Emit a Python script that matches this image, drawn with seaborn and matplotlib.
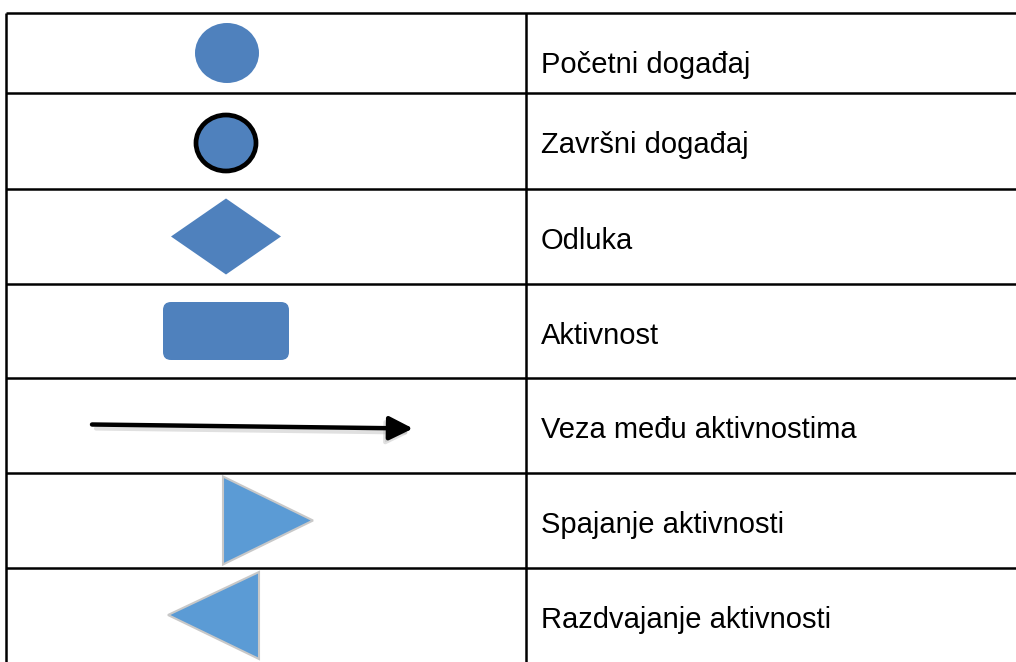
import numpy as np
import matplotlib.pyplot as plt
import matplotlib.patches as mpatches
import seaborn as sns

# sadrzaj tablice
labels = ["Početni događaj", "Završni događaj", "Odluka", "Aktivnost",
          "Veza među aktivnostima", "Spajanje aktivnosti", "Razdvajanje aktivnosti"]
symbols = ["start", "end", "decision", "activity", "arrow", "merge", "split"]

# raspored (pikseli)
W, H = 1016, 662
row_edges = [13, 93, 189, 284, 378, 473, 568, 662]
x_left, x_div = 6, 526
x_sym = 226

sns.set_theme(style="white")
plt.rcParams['font.family'] = ['Liberation Sans', 'DejaVu Sans']

fig = plt.figure(figsize=(W / 100, H / 100), dpi=100)
ax = fig.add_axes([0, 0, 1, 1])
ax.set_xlim(0, W)
ax.set_ylim(H, 0)
ax.axis('off')

blue = '#4f81bd'
blue2 = '#5b9bd5'

# linije tablice
ax.hlines(row_edges[:-1], x_left, W, color='black', lw=1.8)
ax.vlines([x_left, x_div], row_edges[0], H, color='black', lw=1.8)


def draw_symbol(kind, cy):
    if kind == "start":
        ax.add_patch(mpatches.Ellipse((x_sym + 1, cy), 64, 60, fc=blue, ec='none'))
    elif kind == "end":
        ax.add_patch(mpatches.Ellipse((x_sym, cy + 2), 60, 56, fc=blue, ec='black', lw=3.4))
    elif kind == "decision":
        pts = np.array([[x_sym - 55, cy], [x_sym, cy - 38], [x_sym + 55, cy], [x_sym, cy + 38]])
        ax.add_patch(mpatches.Polygon(pts, closed=True, fc=blue, ec='none'))
    elif kind == "activity":
        ax.add_patch(mpatches.FancyBboxPatch((x_sym - 57, cy - 23), 114, 46,
                                             boxstyle="round,pad=6,rounding_size=8",
                                             fc=blue, ec='none'))
    elif kind == "arrow":
        style = "-|>,head_length=1.2,head_width=0.6"
        # sjena
        ax.annotate("", xy=(410, cy + 7), xytext=(96, cy + 3),
                    arrowprops=dict(arrowstyle=style, color='#999999', lw=3, alpha=0.3,
                                    shrinkA=0, shrinkB=0, mutation_scale=12))
        ax.annotate("", xy=(413, cy + 3), xytext=(92, cy - 1),
                    arrowprops=dict(arrowstyle=style, color='black', lw=3.2,
                                    shrinkA=0, shrinkB=0, mutation_scale=12))
    elif kind == "merge":
        pts = np.array([[223, cy - 44], [313, cy], [223, cy + 44]])
        ax.add_patch(mpatches.Polygon(pts, closed=True, fc=blue2, ec='#c8c8c8', lw=1.5))
    elif kind == "split":
        pts = np.array([[259, cy - 43], [168, cy], [259, cy + 44]])
        ax.add_patch(mpatches.Polygon(pts, closed=True, fc=blue2, ec='#c8c8c8', lw=1.5))


for i, (lab, sym) in enumerate(zip(labels, symbols)):
    top, bot = row_edges[i], row_edges[i + 1]
    draw_symbol(sym, (top + bot) / 2)
    ax.text(541, top + 52, lab, fontsize=21, va='center', ha='left', color='black')

fig.savefig("out.png", dpi=100)
